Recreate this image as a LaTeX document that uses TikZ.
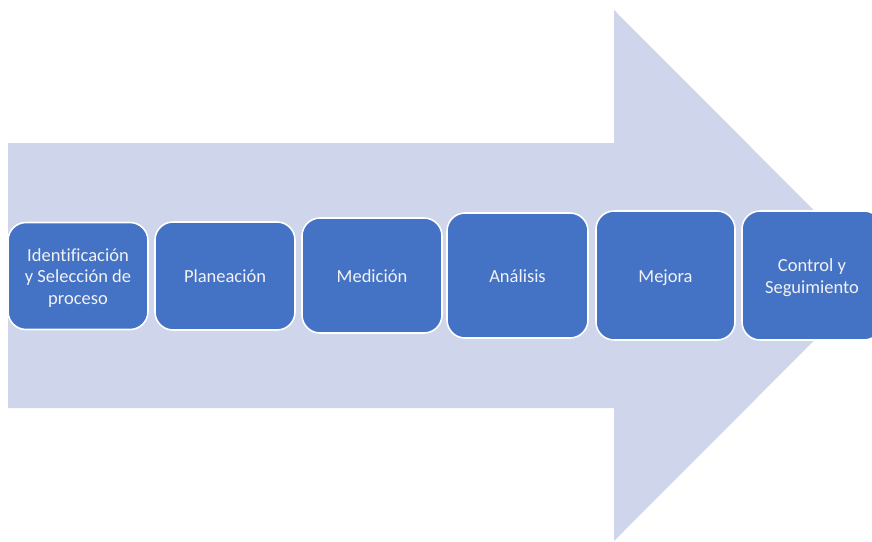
\documentclass[tikz,border=0pt]{standalone}
\usepackage{fontspec}
\setmainfont{Carlito}[Ligatures=NoCommon]
\definecolor{arrowfill}{HTML}{CFD5EA}
\definecolor{boxfill}{HTML}{4472C4}
\definecolor{boxtext}{HTML}{F2F2F2}
\newcommand\lnstrut{\rule[-3.9pt]{0pt}{21.4pt}}
\begin{document}
\begin{tikzpicture}[x=1pt,y=-1pt,
  stepbox/.style={draw=white, line width=1.6pt, fill=boxfill, rounded corners=18pt,
    text=boxtext, font=\fontsize{18.5}{21.5}\selectfont, align=center, inner sep=0pt,
    minimum width=140pt}]
\useasboundingbox (0,0) rectangle (872,541);
\clip (0,0) rectangle (872,541);
\fill[arrowfill] (8,143) -- (614,143) -- (614,10) -- (879,275.5) -- (614,541) -- (614,408) -- (8,408) -- cycle;
\node[stepbox, minimum height=107pt] (b1) at (78,276) {\lnstrut Identificación\\\lnstrut y Selección de\\\lnstrut proceso};
\node[stepbox, minimum height=108pt] (b2) at (225,276) {\lnstrut Planeación};
\node[stepbox, minimum height=115pt] (b3) at (372,275.5) {\lnstrut Medición};
\node[stepbox, minimum height=125pt, minimum width=141pt] (b4) at (517.5,275.5) {\lnstrut Análisis};
\node[stepbox, minimum height=129pt, minimum width=139pt] (b5) at (665.5,275.5) {\lnstrut Mejora};
\node[stepbox, minimum height=129pt] (b6) at (812,275.5) {\lnstrut Control y\\\lnstrut Seguimiento};
\end{tikzpicture}
\end{document}
